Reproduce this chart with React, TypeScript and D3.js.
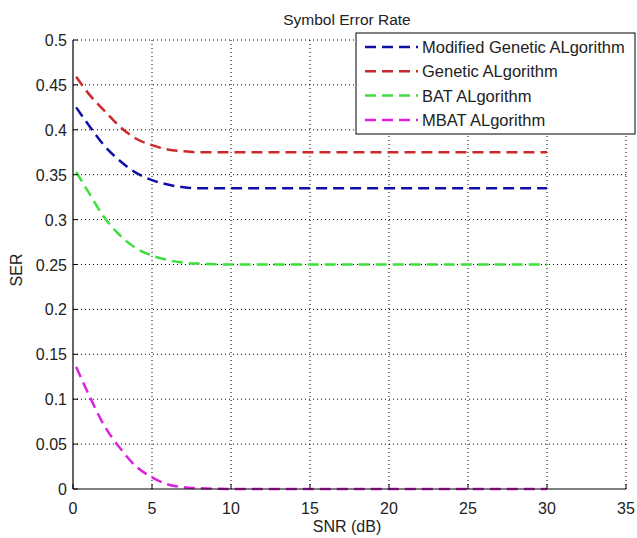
import React from "react";
import * as d3 from "d3";

const snr = [0.2, 1, 2, 3, 4, 5, 6, 7, 8, 10, 15, 20, 25, 30];
const mgaSer = [0.425, 0.405, 0.382, 0.365, 0.352, 0.344, 0.339, 0.336, 0.335, 0.335, 0.335, 0.335, 0.335, 0.335];
const gaSer = [0.459, 0.44, 0.421, 0.403, 0.39, 0.383, 0.378, 0.376, 0.375, 0.375, 0.375, 0.375, 0.375, 0.375];
const batSer = [0.353, 0.33, 0.302, 0.282, 0.268, 0.26, 0.255, 0.252, 0.251, 0.25, 0.25, 0.25, 0.25, 0.25];
const mbatSer = [0.136, 0.105, 0.07, 0.045, 0.025, 0.013, 0.005, 0.002, 0.001, 0, 0, 0, 0, 0];

const seriesNames = ["Modified Genetic ALgorithm", "Genetic ALgorithm", "BAT ALgorithm", "MBAT ALgorithm"];
const seriesValues = [mgaSer, gaSer, batSer, mbatSer];
const seriesColors = ["#1010a8", "#cc2a2a", "#3ce03c", "#dc22dc"];

const xTicks = [0, 5, 10, 15, 20, 25, 30, 35];
const yTicks = [0, 0.05, 0.1, 0.15, 0.2, 0.25, 0.3, 0.35, 0.4, 0.45, 0.5];

export default function App() {
  const W = 637, H = 538;
  const x = d3.scaleLinear().domain([0, 35]).range([73, 626]);
  const y = d3.scaleLinear().domain([0, 0.5]).range([489, 40]);
  const line = d3.line<number>()
    .x((_, i) => x(snr[i]))
    .y((d) => y(d))
    .curve(d3.curveMonotoneX);
  const font = "Arial, 'Liberation Sans', sans-serif";
  const txt = "#222";
  return (
    <svg width={W} height={H} style={{ position: "absolute", left: 0, top: 0, background: "#fff" }} fontFamily={font}>
      <rect x={0} y={0} width={W} height={H} fill="#fff" />
      {/* grid */}
      {xTicks.slice(1).map((t) => (
        <line key={"gx" + t} x1={x(t)} x2={x(t)} y1={y(0)} y2={y(0.5)} stroke="#000" strokeWidth={1} strokeDasharray="1,3" />
      ))}
      {yTicks.slice(1).map((t) => (
        <line key={"gy" + t} x1={x(0)} x2={x(35)} y1={y(t)} y2={y(t)} stroke="#000" strokeWidth={1} strokeDasharray="1,3" />
      ))}
      {/* series */}
      {seriesValues.map((vals, i) => (
        <path key={"s" + i} d={line(vals) || ""} fill="none" stroke={seriesColors[i]} strokeWidth={2.5} strokeDasharray="11,6" />
      ))}
      {/* axes */}
      <line x1={x(0)} x2={x(35)} y1={y(0)} y2={y(0)} stroke="#000" strokeWidth={1.2} />
      <line x1={x(0)} x2={x(0)} y1={y(0)} y2={y(0.5)} stroke="#000" strokeWidth={1.2} />
      {xTicks.map((t) => (
        <g key={"xt" + t}>
          <line x1={x(t)} x2={x(t)} y1={y(0)} y2={y(0) - 5} stroke="#000" />
          <text x={x(t)} y={y(0) + 25} textAnchor="middle" fontSize={16} fill={txt}>{t}</text>
        </g>
      ))}
      {yTicks.map((t) => (
        <g key={"yt" + t}>
          <line x1={x(0)} x2={x(0) + 5} y1={y(t)} y2={y(t)} stroke="#000" />
          <text x={x(0) - 6} y={y(t) + 6} textAnchor="end" fontSize={16} fill={txt}>{String(t)}</text>
        </g>
      ))}
      <text x={347} y={25} textAnchor="middle" fontSize={15.5} fill={txt}>Symbol Error Rate</text>
      <text x={347} y={532} textAnchor="middle" fontSize={16} fill={txt}>SNR (dB)</text>
      <text transform="translate(22,270) rotate(-90)" textAnchor="middle" fontSize={16} fill={txt}>SER</text>
      {/* legend */}
      <rect x={356} y={33} width={279} height={101} fill="#fff" stroke="#000" strokeWidth={1} />
      {seriesNames.map((n, i) => (
        <g key={"lg" + i}>
          <line x1={365} x2={418} y1={47 + i * 24.3} y2={47 + i * 24.3} stroke={seriesColors[i]} strokeWidth={2.5} strokeDasharray="11,6" />
          <text x={422} y={47 + i * 24.3 + 6} fontSize={16.5} fill={txt}>{n}</text>
        </g>
      ))}
    </svg>
  );
}
